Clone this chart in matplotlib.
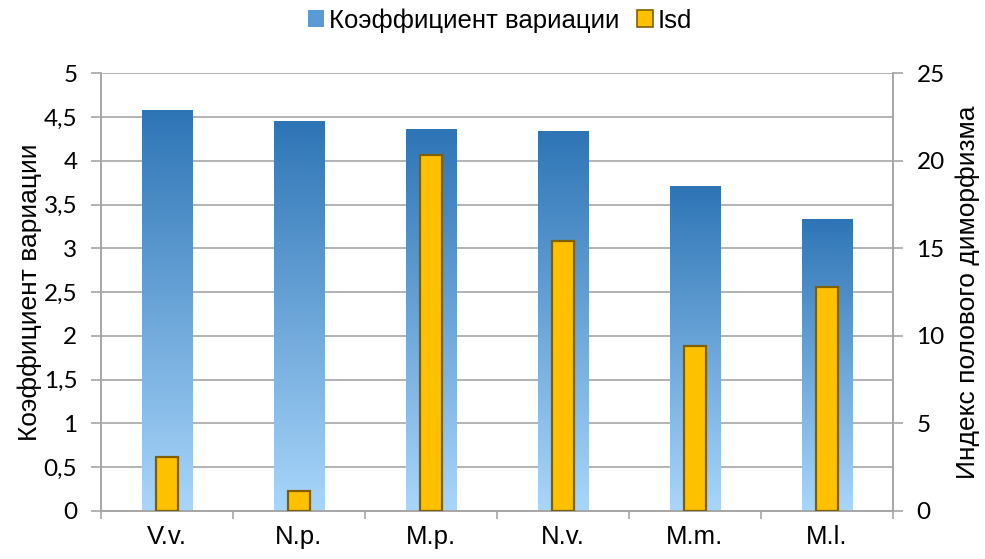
import numpy as np
import matplotlib
matplotlib.use("Agg")
import matplotlib.pyplot as plt
from matplotlib.patches import Patch
from matplotlib.colors import LinearSegmentedColormap
from matplotlib.ticker import FuncFormatter

plt.rcParams['font.family'] = ['Liberation Sans', 'DejaVu Sans']

species = ["V.v.", "N.p.", "M.p.", "N.v.", "M.m.", "M.l."]
cv_values = [4.58, 4.45, 4.36, 4.34, 3.71, 3.34]
isd_values = [3.08, 1.14, 20.35, 15.4, 9.42, 12.8]

left_ticks = [0, 0.5, 1, 1.5, 2, 2.5, 3, 3.5, 4, 4.5, 5]
right_ticks = [0, 5, 10, 15, 20, 25]

blue_top = "#2E75B6"
blue_bottom = "#A9D6FB"
gold = "#FFC000"
gold_edge = "#7F6000"
grid_col = "#A6A6A6"
text_size = 18.5
num_font = ['Lato', 'DejaVu Sans']
num_size = 17.5

fig = plt.figure(figsize=(9.85, 5.59), dpi=100)
ax = fig.add_axes([0.1025, 0.086, 0.804, 0.783])
ax2 = ax.twinx()

x = np.arange(len(species))

# gradient columns: clip a vertical colour ramp to each bar
cmap = LinearSegmentedColormap.from_list("cv", [blue_bottom, blue_top])
ramp = np.linspace(0, 1, 256).reshape(-1, 1)
bars = ax.bar(x, cv_values, width=0.38, color="none", edgecolor="none", zorder=2)
for b in bars:
    x0, w, h = b.get_x(), b.get_width(), b.get_height()
    im = ax.imshow(ramp, cmap=cmap, origin="lower", aspect="auto",
                   extent=[x0, x0 + w, 0, h], zorder=2, interpolation="bilinear")
    im.set_clip_path(b)
ax.set_xlim(-0.5, len(species) - 0.5)
ax.set_ylim(0, 5)
ax2.set_ylim(0, 25)

ax2.bar(x, isd_values, width=0.17, color=gold, edgecolor=gold_edge,
        linewidth=1.6, zorder=3)

# grid
ax.set_yticks(left_ticks)
ax.yaxis.grid(True, color=grid_col, linewidth=1.2)
ax.set_axisbelow(True)
ax.yaxis.set_major_formatter(FuncFormatter(lambda v, p: f"{v:g}".replace(".", ",")))
ax2.set_yticks(right_ticks)

# category ticks between groups
ax.set_xticks(x)
ax.set_xticklabels(species, fontsize=text_size)
ax.set_xticks(np.arange(-0.5, len(species), 1), minor=True)
ax.tick_params(axis="x", which="major", length=0, pad=10)
ax.tick_params(axis="x", which="minor", length=6, color=grid_col, width=1.2)

ax.tick_params(axis="y", length=7, color=grid_col, width=1.2, pad=10)
ax2.tick_params(axis="y", length=7, color=grid_col, width=1.2, pad=10)
for a in (ax, ax2):
    for lab in a.get_yticklabels():
        lab.set_fontfamily(num_font)
        lab.set_fontsize(num_size)
    a.spines["top"].set_visible(False)
    for s in ("left", "right", "bottom"):
        a.spines[s].set_color(grid_col)
        a.spines[s].set_linewidth(1.2)

ax.set_ylabel("Коэффициент вариации", fontsize=text_size + 0.5, labelpad=1)
ax2.set_ylabel("Индекс полового диморфизма", fontsize=text_size + 0.5, labelpad=8)

handles = [Patch(facecolor="#5B9BD5", edgecolor="none"),
           Patch(facecolor=gold, edgecolor=gold_edge, linewidth=1.2)]
fig.legend(handles, ["Коэффициент вариации", "Isd"], loc="upper center",
           bbox_to_anchor=(0.508, 1.027), ncol=2, frameon=False, fontsize=text_size,
           handlelength=0.6, handleheight=0.6, handletextpad=0.2, columnspacing=0.7)

fig.savefig("out.png", dpi=100)
